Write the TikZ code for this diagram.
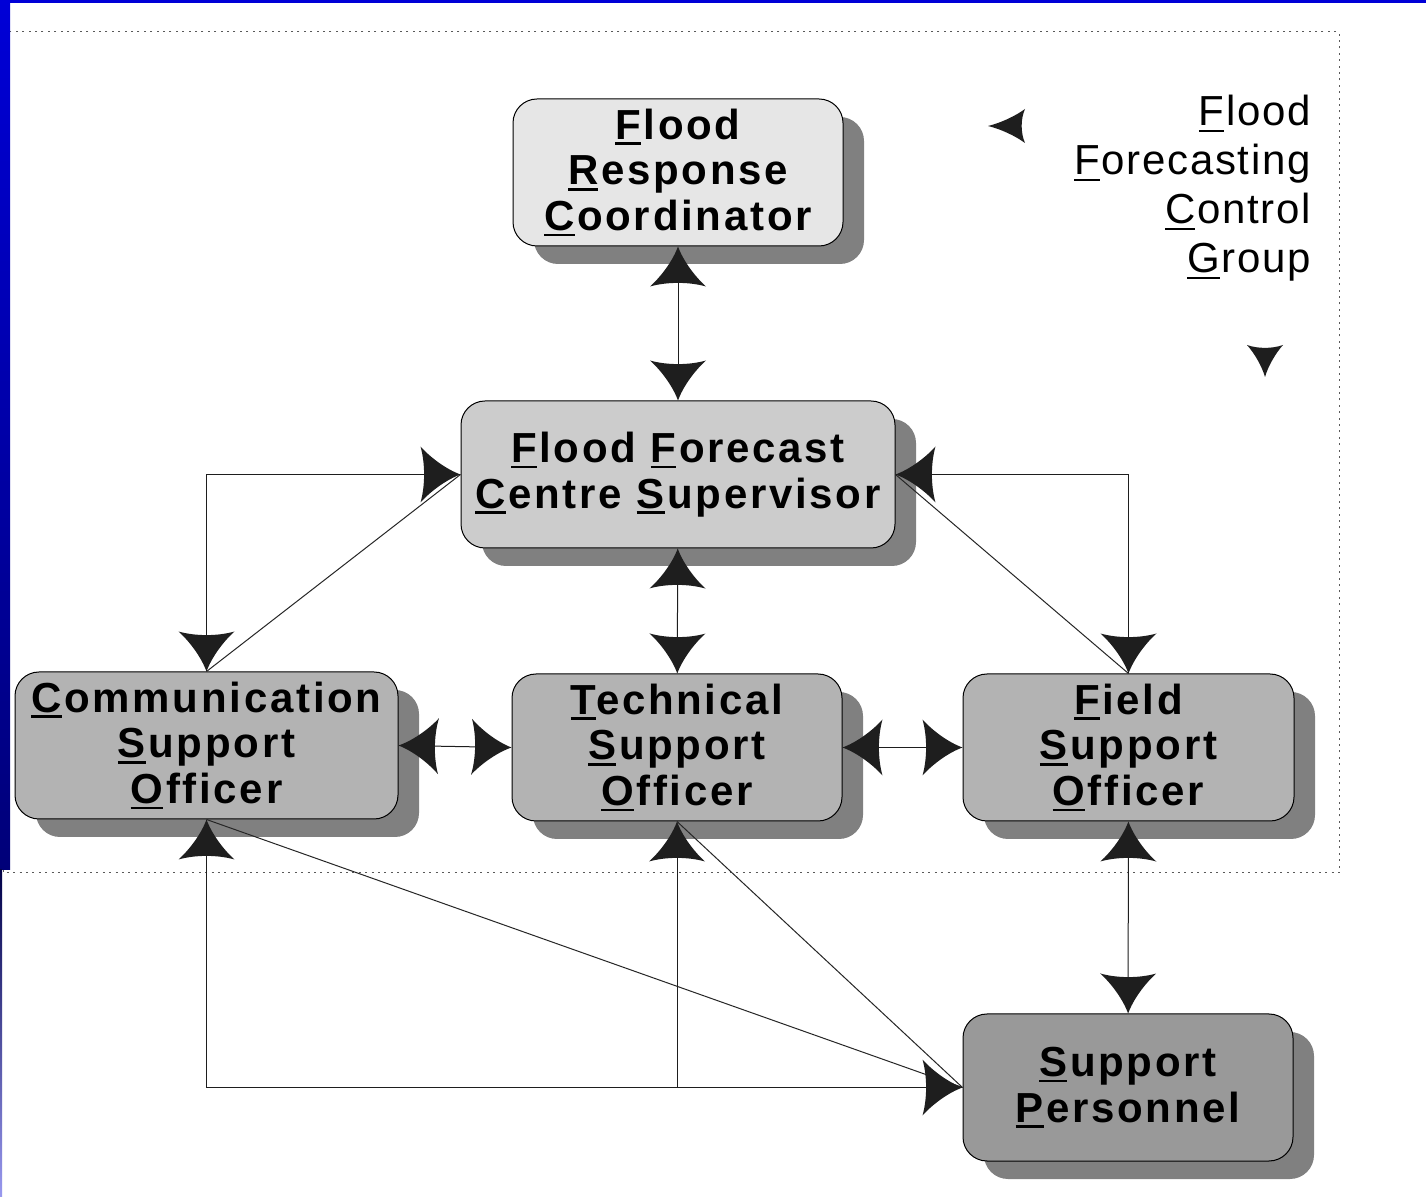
\documentclass[tikz,border=0pt]{standalone}
\usepackage{fontspec}
\usetikzlibrary{arrows.meta,shadows}
\newfontfamily\boxfont[LetterSpace=6.5]{Liberation Sans}
\newfontfamily\labelfont[LetterSpace=4]{Liberation Sans}
\definecolor{frcgray}{HTML}{E6E6E6}
\definecolor{ffcsgray}{HTML}{CCCCCC}
\definecolor{offgray}{HTML}{B3B3B3}
\definecolor{spgray}{HTML}{999999}
\definecolor{shadegray}{HTML}{808080}
\definecolor{framblue}{RGB}{0,0,215}
\definecolor{framnavy}{RGB}{0,0,120}
\definecolor{tipgray}{HTML}{1E1E1E}
\newcommand{\ulc}[2][1.3pt]{\setbox0\hbox{#2}\rlap{\rule[-2.9pt]{\wd0}{#1}}#2}
\pgfdeclarearrow{
	name = Cusp,
	parameters = {\the\pgfarrowlength,\the\pgfarrowwidth},
	setup code = {
		\pgfarrowssettipend{0pt}
		\pgfarrowssetbackend{-\pgfarrowlength}
		\pgfarrowssetlineend{-.6\pgfarrowlength}
		\pgfarrowssavethe\pgfarrowlength
		\pgfarrowssavethe\pgfarrowwidth
		\pgfarrowsupperhullpoint{-\pgfarrowlength}{.5\pgfarrowwidth}
		\pgfarrowsupperhullpoint{0pt}{0pt}
	},
	drawing code = {
		\pgfpathmoveto{\pgfpointorigin}
		\pgfpathcurveto{\pgfpoint{-.35*\pgfarrowlength}{.09*\pgfarrowwidth}}{\pgfpoint{-.75*\pgfarrowlength}{.3*\pgfarrowwidth}}{\pgfpoint{-\pgfarrowlength}{.5*\pgfarrowwidth}}
		\pgfpathcurveto{\pgfpoint{-.88*\pgfarrowlength}{.2*\pgfarrowwidth}}{\pgfpoint{-.88*\pgfarrowlength}{-.2*\pgfarrowwidth}}{\pgfpoint{-\pgfarrowlength}{-.5*\pgfarrowwidth}}
		\pgfpathcurveto{\pgfpoint{-.75*\pgfarrowlength}{-.3*\pgfarrowwidth}}{\pgfpoint{-.35*\pgfarrowlength}{-.09*\pgfarrowwidth}}{\pgfpointorigin}
		\pgfpathclose
		\pgfusepathqfill
	},
	defaults = {length=20pt, width=28pt}
}
\begin{document}
\begin{tikzpicture}[x=0.5pt, y=-0.5pt,
	box/.style={rectangle, rounded corners=12pt, draw=black, line width=0.5pt, inner sep=0pt, minimum height=73.5pt, align=center, font=\boxfont\bfseries\fontsize{21}{22.8}\selectfont, copy shadow={shadow xshift=10.5pt, shadow yshift=-9pt, fill=shadegray, draw=none}},
	link/.style={draw=black!85, line width=0.5pt, arrows={Cusp-Cusp}, tipgray},
	plain/.style={draw=black!85, line width=0.5pt},
	fcglabel/.style={inner sep=0pt, align=right, font=\labelfont\fontsize{21}{24.5}\selectfont}]
	\useasboundingbox (0,0) rectangle (1426,1197);
	\fill[white] (0,0) rectangle (1426,1197);
	\draw[gray!70!black, line width=0.5pt, dash pattern=on 1pt off 2.2pt] (3,32) rectangle (1339,873);
	\shade[top color=framblue, bottom color=framnavy] (0,0) rectangle (10,870);
	\shade[top color=framnavy!60!black, bottom color=framblue!40] (0,870) rectangle (2,1197);
	\fill[framblue] (0,0) rectangle (1426,3);

	\node[box, fill=frcgray, minimum width=165pt] (frc) at (678,172.5) {\ulc{F}lood\\\ulc{R}esponse\\\ulc{C}oordinator};
	\node[box, fill=ffcsgray, minimum width=217pt] (ffcs) at (678,474.5) {\ulc{F}lood \ulc{F}orecast\\\ulc{C}entre \ulc{S}upervisor};
	\node[box, fill=offgray, minimum width=191.5pt] (cso) at (206.5,745.5) {\ulc{C}ommunication\\\ulc{S}upport\\\ulc{O}fficer};
	\node[box, fill=offgray, minimum width=165pt] (tso) at (677,747.5) {\ulc{T}echnical\\\ulc{S}upport\\\ulc{O}fficer};
	\node[box, fill=offgray, minimum width=165.5pt] (fso) at (1128.5,747.5) {\ulc{F}ield\\\ulc{S}upport\\\ulc{O}fficer};
	\node[box, fill=spgray, minimum width=165pt] (sp) at (1128,1087.5) {\ulc{S}upport\\\ulc{P}ersonnel};

	\node[fcglabel, anchor=north east] (fcg) at (1311,95) {\ulc[0.9pt]{F}lood\\\ulc[0.9pt]{F}orecasting\\\ulc[0.9pt]{C}ontrol\\\ulc[0.9pt]{G}roup};
	\coordinate (fcgl) at (1012,126);
	\coordinate (fcgltip) at (988,126);
	\coordinate (fcgd) at (1265,356);
	\coordinate (fcgdtip) at (1265,377);
	\draw[link, arrows={-Cusp[length=18.5pt, width=17pt]}] (fcgl) -- (fcgltip);
	\draw[link, arrows={-Cusp[length=16pt, width=18pt]}] (fcgd) -- (fcgdtip);

	\draw[plain] (ffcs.west) -- (cso.north);
	\draw[plain] (ffcs.east) -- (fso.north);
	\draw[plain] (cso.south) -- (sp.west);
	\draw[plain] (tso.south) -- (sp.west);
	\draw[link] (frc) -- (ffcs);
	\draw[link] (ffcs) -- (tso);
	\draw[link] (ffcs.west) -| (cso.north);
	\draw[link] (ffcs.east) -| (fso.north);
	\draw[link] (cso.east) -- (tso.west);
	\draw[link] (tso) -- (fso);
	\draw[link] (fso) -- (sp);
	\draw[link] (cso.south) |- (sp.west);
	\draw[link, arrows={Cusp-}] (tso.south) -- (tso.south |- sp.west);
\end{tikzpicture}
\end{document}
